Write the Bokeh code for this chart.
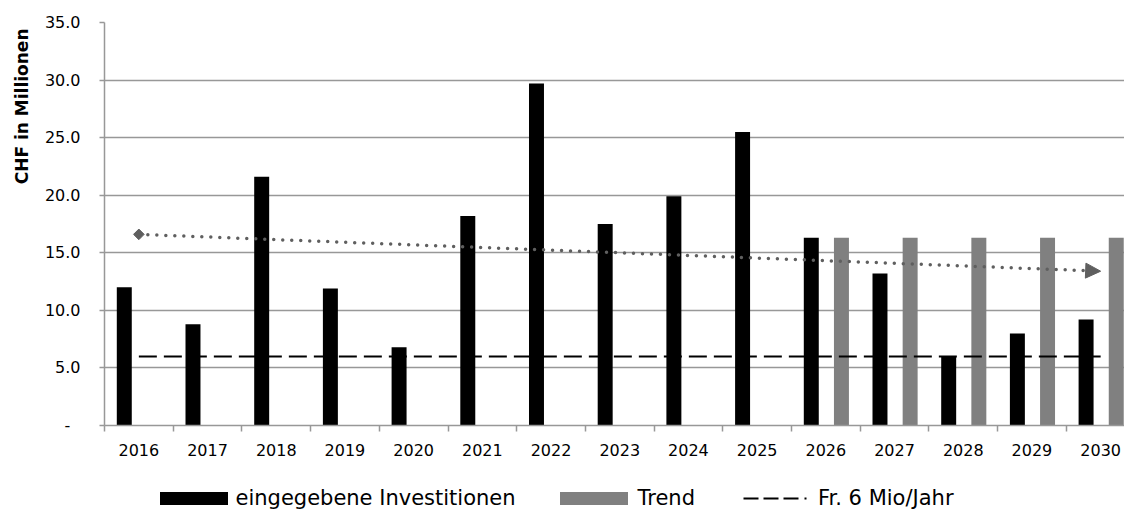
from bokeh.plotting import figure
from bokeh.layouts import column
from bokeh.models import (ColumnDataSource, Range1d, FixedTicker, Legend, LegendItem,
                          Title, Arrow, NormalHead)
from bokeh.transform import dodge
from bokeh.embed import file_html
from bokeh.resources import INLINE

# ---- data ----
years = [2016, 2017, 2018, 2019, 2020, 2021, 2022, 2023, 2024, 2025,
         2026, 2027, 2028, 2029, 2030]
investitionen = [12.0, 8.8, 21.6, 11.9, 6.8, 18.2, 29.7, 17.5, 19.9, 25.5,
                 16.3, 13.2, 6.0, 8.0, 9.2]
trend_years = [2026, 2027, 2028, 2029, 2030]
trend_values = [16.3, 16.3, 16.3, 16.3, 16.3]
fr6_years = [2016, 2030]
fr6_values = [6.0, 6.0]
trendline_years = [2016, 2030]
trendline_values = [16.6, 13.4]
y_ticks = [0, 5, 10, 15, 20, 25, 30, 35]
y_tick_labels = ["-\u00a0\u00a0", "5.0", "10.0", "15.0", "20.0", "25.0", "30.0", "35.0"]
series_names = ["eingegebene Investitionen", "Trend", "Fr. 6 Mio/Jahr"]
y_title = "CHF in Millionen"

FONT = "DejaVu Sans"
GRID = "#989898"
TREND_C = "#5f5f5f"
BLACK_BAR = "#000000"
GRAY_BAR = "#808080"

src_inv = ColumnDataSource(dict(year=years, value=investitionen))
src_tr = ColumnDataSource(dict(year=trend_years, value=trend_values))

cat_px = 68.7
left = 104
frame_w = 1124 - left

p = figure(width=1124, height=470,
           x_range=Range1d(years[0] - 0.5, years[0] - 0.5 + frame_w / cat_px),
           y_range=Range1d(0, 35),
           min_border_left=left, min_border_right=0, min_border_top=22, min_border_bottom=45,
           output_backend="svg", toolbar_location=None)
p.outline_line_color = None
p.background_fill_color = "white"
p.border_fill_color = "white"

p.vbar(x=dodge("year", -0.212, range=p.x_range), top="value", width=0.218,
       source=src_inv, fill_color=BLACK_BAR, line_color=None)
p.vbar(x=dodge("year", 0.227, range=p.x_range), top="value", width=0.218,
       source=src_tr, fill_color=GRAY_BAR, line_color=None)

p.line(fr6_years, fr6_values, line_color="#000000", line_width=2, line_dash="18 7")

p.line(trendline_years, trendline_values, line_color=TREND_C, line_width=3.5,
       line_dash="0 9", line_cap="round")
p.scatter([trendline_years[0]], [trendline_values[0]], marker="square", angle=0.785398,
          size=7.5, fill_color=TREND_C, line_color=TREND_C)
p.add_layout(Arrow(end=NormalHead(size=15, fill_color=TREND_C, line_color=TREND_C, line_width=1),
                   x_start=trendline_years[0], y_start=trendline_values[0],
                   x_end=trendline_years[1], y_end=trendline_values[1],
                   line_alpha=0))

# axes
p.xgrid.grid_line_color = None
p.ygrid.ticker = FixedTicker(ticks=y_ticks)
p.ygrid.grid_line_color = GRID
p.ygrid.grid_line_width = 1.5

xa = p.xaxis[0]
xa.ticker = FixedTicker(ticks=years, minor_ticks=[y - 0.5 for y in years] + [years[-1] + 0.5])
xa.major_tick_out = 0
xa.major_tick_in = 0
xa.major_tick_line_color = None
xa.minor_tick_out = 6
xa.minor_tick_in = 0
xa.minor_tick_line_color = GRID
xa.minor_tick_line_width = 1.5
xa.axis_line_color = GRID
xa.axis_line_width = 1.5
xa.major_label_standoff = 12
xa.major_label_text_font = FONT
xa.major_label_text_font_size = "16px"
xa.major_label_text_color = "#000000"

ya = p.yaxis[0]
ya.ticker = FixedTicker(ticks=y_ticks)
ya.major_label_overrides = {t: l for t, l in zip(y_ticks, y_tick_labels)}
ya.major_tick_out = 5
ya.major_tick_in = 0
ya.major_tick_line_color = GRID
ya.major_tick_line_width = 1.5
ya.minor_tick_line_color = None
ya.axis_line_color = GRID
ya.axis_line_width = 1.5
ya.major_label_standoff = 19
ya.major_label_text_font = FONT
ya.major_label_text_font_size = "16px"
ya.major_label_text_color = "#000000"

p.add_layout(Title(text=y_title, align="right", offset=6, standoff=19,
                   text_font=FONT, text_font_style="bold", text_font_size="17px",
                   text_color="#000000"), "left")

# ---- legend strip ----
lg = figure(width=1124, height=40, x_range=Range1d(0, 1), y_range=Range1d(0, 1),
            min_border_left=0, min_border_right=0, min_border_top=0, min_border_bottom=0,
            output_backend="svg", toolbar_location=None)
lg.axis.visible = False
lg.grid.visible = False
lg.outline_line_color = None
lg.background_fill_color = "white"
lg.border_fill_color = "white"

# legend-only renderers (their data lies outside this strip's ranges, so only the legend glyphs show)
r1 = lg.vbar(x="year", top="value", width=0.2, source=src_inv, fill_color=BLACK_BAR, line_color=None)
r2 = lg.vbar(x="year", top="value", width=0.2, source=src_tr, fill_color=GRAY_BAR, line_color=None)
r3 = lg.line(fr6_years, fr6_values, line_color="#000000", line_width=2,
             line_dash="15 5 15 5 15 6 2 40")

def make_legend(label, rend, x, gw, gh, standoff):
    leg = Legend(items=[LegendItem(label=label, renderers=[rend])],
                 location=(x - left, 0), orientation="horizontal", padding=0, margin=0,
                 border_line_color=None, background_fill_alpha=0,
                 glyph_width=gw, glyph_height=gh, label_standoff=standoff,
                 label_text_font=FONT, label_text_font_size="21px",
                 label_text_color="#000000", label_height=13, spacing=0)
    lg.add_layout(leg)

make_legend(series_names[0], r1, 150.5, 85, 16, 0)
make_legend(series_names[1], r2, 550.5, 85, 16, 2)
make_legend(series_names[2], r3, 743, 70, 16, 5)

layout = column(p, lg, spacing=0)
open("out.html", "w").write(file_html(layout, INLINE))
